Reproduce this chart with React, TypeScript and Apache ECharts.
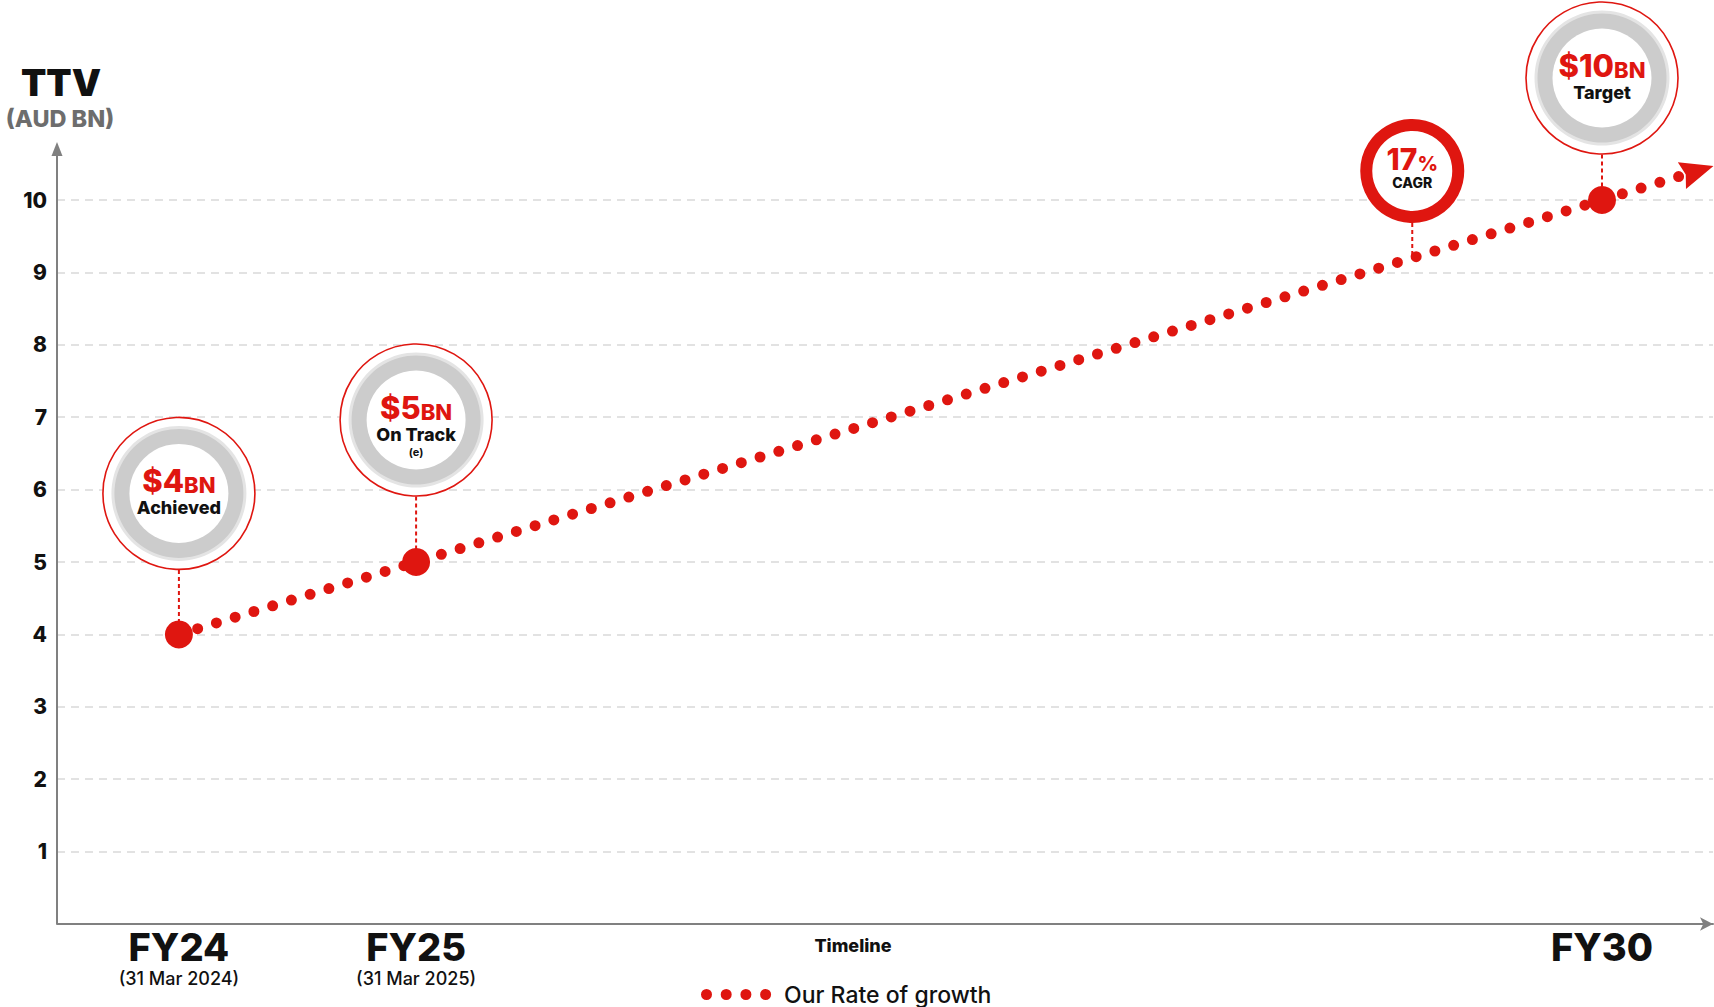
import React, { useEffect, useRef } from 'react';
import * as echarts from 'echarts';

// ---------- data ----------
const growthYears = [2024, 2025, 2030, 2030.34];
const growthValues = [4, 5, 10, 10.34];
const arrowTip = [2030.47, 10.47];
const arrowFrom = [2030, 10];

const xLabelYears = [2024, 2025, 2030];
const xLabelNames = ['FY24', 'FY25', 'FY30'];
const xLabelDates = ['(31 Mar 2024)', '(31 Mar 2025)', ''];

const badgeYears = [2024, 2025, 2029.2, 2030];
const badgeValues = [4, 5, 9.2, 10];
const badgeMain = ['$4', '$5', '17', '$10'];
const badgeUnit = ['BN', 'BN', '%', 'BN'];
const badgeSub = ['Achieved', 'On Track', 'CAGR', 'Target'];
const badgeNote = ['', '(e)', '', ''];
const badgeKind = ['ring', 'ring', 'cagr', 'ring'];

const seriesName = 'Our Rate of growth';

// ---------- layout / style ----------
const RED = '#DF1610';
const FONT = "Inter, 'Open Sans', sans-serif";
const BADGE_LIFT = [141, 142, 87, 122];
const W = 1714;
const H = 1007;
const GRID = { left: 57, right: 1, top: 200, bottom: 83 };

const legendIcon =
  'path://' +
  [5.5, 25.2, 44.9, 64.6]
    .map((c) => `M${c - 5.5},5.5a5.5,5.5 0 1,0 11,0a5.5,5.5 0 1,0 -11,0Z`)
    .join(' ');

function renderBadge(params: any, api: any) {
  const i = api.value(2) as number;
  const p = api.coord([api.value(0), api.value(1)]);
  const cx = p[0];
  const cy = p[1] - BADGE_LIFT[i];
  const isCagr = badgeKind[i] === 'cagr';
  const rOuter = isCagr ? 52 : 76.5;
  const children: any[] = [];
  children.push({
    type: 'line',
    shape: { x1: cx, y1: cy + rOuter, x2: cx, y2: p[1] },
    style: { stroke: RED, lineWidth: 2, lineDash: [4, 3] },
  });
  if (isCagr) {
    children.push({
      type: 'circle',
      shape: { cx, cy, r: 46 },
      style: { fill: '#fff', stroke: RED, lineWidth: 12 },
    });
  } else {
    children.push({ type: 'circle', shape: { cx, cy, r: 76 }, style: { fill: '#fff', stroke: RED, lineWidth: 1.6 } });
    children.push({ type: 'circle', shape: { cx, cy, r: 67.5 }, style: { fill: '#e4e4e4' } });
    children.push({ type: 'circle', shape: { cx, cy, r: 64.5 }, style: { fill: '#cccccc' } });
    children.push({ type: 'circle', shape: { cx, cy, r: 49.5 }, style: { fill: '#ffffff' } });
  }
  const mainSize = isCagr ? 30 : 31;
  let text = `{m|${badgeMain[i]}}{u|${badgeUnit[i]}}\n{s|${badgeSub[i]}}`;
  if (badgeNote[i]) text += `\n{n|${badgeNote[i]}}`;
  children.push({
    type: 'text',
    style: {
      text,
      x: cx,
      y: cy - 25,
      align: 'center',
      verticalAlign: 'top',
      fontFamily: FONT,
      rich: {
        m: { fontSize: mainSize, fontWeight: 800, fill: RED, lineHeight: 28, fontFamily: FONT, verticalAlign: 'bottom' },
        u: { fontSize: isCagr ? 20 : 22, fontWeight: 800, fill: RED, lineHeight: isCagr ? 23 : 24, fontFamily: FONT, verticalAlign: 'bottom' },
        s: { fontSize: isCagr ? 14 : 18, fontWeight: 800, fill: '#111', lineHeight: isCagr ? 17 : 23, fontFamily: FONT },
        n: { fontSize: 11, fontWeight: 700, fill: '#111', lineHeight: 12, fontFamily: FONT },
      },
    },
  });
  return { type: 'group', children };
}

function renderArrow(params: any, api: any) {
  const tip = api.coord([api.value(0), api.value(1)]);
  const from = api.coord([api.value(2), api.value(3)]);
  const dx = tip[0] - from[0];
  const dy = tip[1] - from[1];
  const len = Math.sqrt(dx * dx + dy * dy);
  const ux = dx / len;
  const uy = dy / len;
  const nx = -uy;
  const ny = ux;
  const L = 33;
  const hw = 14;
  const notch = 4;
  return {
    type: 'polygon',
    shape: {
      points: [
        [tip[0], tip[1]],
        [tip[0] - L * ux + hw * nx, tip[1] - L * uy + hw * ny],
        [tip[0] - (L - notch) * ux, tip[1] - (L - notch) * uy],
        [tip[0] - L * ux - hw * nx, tip[1] - L * uy - hw * ny],
      ],
    },
    style: { fill: RED },
  };
}

export default function App() {
  const ref = useRef<HTMLDivElement>(null);
  useEffect(() => {
    document.body.style.margin = '0';
    if (!ref.current) return;
    const chart = echarts.init(ref.current, null, { renderer: 'svg' });
    const option: any = {
      animation: false,
      backgroundColor: '#ffffff',
      textStyle: { fontFamily: FONT },
      grid: GRID,
      legend: {
        data: [{ name: seriesName, icon: legendIcon }],
        left: 701,
        top: 983,
        itemWidth: 70.1,
        itemHeight: 11,
        selectedMode: false,
        padding: 0,
        itemStyle: { color: RED, borderWidth: 0 },
        textStyle: { fontSize: 23, fontWeight: 500, color: '#111', fontFamily: FONT, padding: [0, 0, 0, 8] },
      },
      xAxis: {
        type: 'value',
        min: 2023.486,
        max: 2030.468,
        splitLine: { show: false },
        axisTick: { show: false },
        axisLine: {
          show: true,
          lineStyle: { color: '#808080', width: 2 },
          symbol: ['none', 'arrow'],
          symbolSize: [10, 13],
        },
        axisLabel: {
          customValues: xLabelYears,
          margin: 2,
          formatter: (v: number) => {
            const k = xLabelYears.indexOf(Math.round(v));
            if (k < 0) return '';
            return xLabelDates[k]
              ? `{fy|${xLabelNames[k]}}\n{d|${xLabelDates[k]}}`
              : `{fy|${xLabelNames[k]}}`;
          },
          rich: {
            fy: { fontSize: 38, fontWeight: 800, color: '#111', lineHeight: 42, fontFamily: FONT },
            d: { fontSize: 18, fontWeight: 500, color: '#111', lineHeight: 20, fontFamily: FONT },
          },
        },
      },
      yAxis: {
        type: 'value',
        min: 0,
        max: 10,
        interval: 1,
        axisLine: { show: false },
        axisTick: { show: false },
        axisLabel: {
          showMinLabel: false,
          fontSize: 21,
          fontWeight: 800,
          color: '#111',
          margin: 10,
          fontFamily: FONT,
        },
        splitLine: { show: true, lineStyle: { color: '#d9d9d9', width: 1.5, type: [8, 6] } },
      },
      graphic: [
        { type: 'line', shape: { x1: 57, y1: 924, x2: 57, y2: 152 }, style: { stroke: '#808080', lineWidth: 2 }, z: 5 },
        { type: 'polygon', shape: { points: [[57, 142], [51.5, 156], [62.5, 156]] }, style: { fill: '#808080' }, z: 5 },
        {
          type: 'text',
          x: 61,
          y: 82,
          style: { text: 'TTV', fontSize: 37, fontWeight: 900, fill: '#111', align: 'center', verticalAlign: 'middle', fontFamily: FONT },
        },
        {
          type: 'text',
          x: 60,
          y: 118,
          style: { text: '(AUD BN)', fontSize: 23.5, fontWeight: 800, fill: '#6d6d6d', align: 'center', verticalAlign: 'middle', fontFamily: FONT },
        },
        {
          type: 'text',
          x: 853,
          y: 945,
          style: { text: 'Timeline', fontSize: 18, fontWeight: 800, fill: '#111', align: 'center', verticalAlign: 'middle', fontFamily: FONT },
        },
      ],
      series: [
        {
          type: 'custom',
          name: 'badges',
          renderItem: renderBadge,
          clip: false,
          silent: true,
          z: 2,
          encode: { x: 0, y: 1 },
          data: badgeYears.map((x, i) => [x, badgeValues[i], i]),
        },
        {
          type: 'custom',
          name: 'arrow',
          renderItem: renderArrow,
          clip: false,
          silent: true,
          z: 4,
          encode: { x: 0, y: 1 },
          data: [[arrowTip[0], arrowTip[1], arrowFrom[0], arrowFrom[1]]],
        },
        {
          type: 'line',
          name: seriesName,
          silent: true,
          clip: false,
          z: 3,
          showAllSymbol: true,
          itemStyle: { color: RED, borderWidth: 0 },
          lineStyle: { color: RED, width: 11, type: [0, 19.6], cap: 'round' },
          emphasis: { disabled: true },
          data: growthYears.map((x, i) => ({
            value: [x, growthValues[i]],
            symbol: i < 3 ? 'circle' : 'none',
            symbolSize: 28,
          })),
        },
      ],
    };
    chart.setOption(option);
    return () => chart.dispose();
  }, []);
  return <div ref={ref} style={{ width: W, height: H }} />;
}
